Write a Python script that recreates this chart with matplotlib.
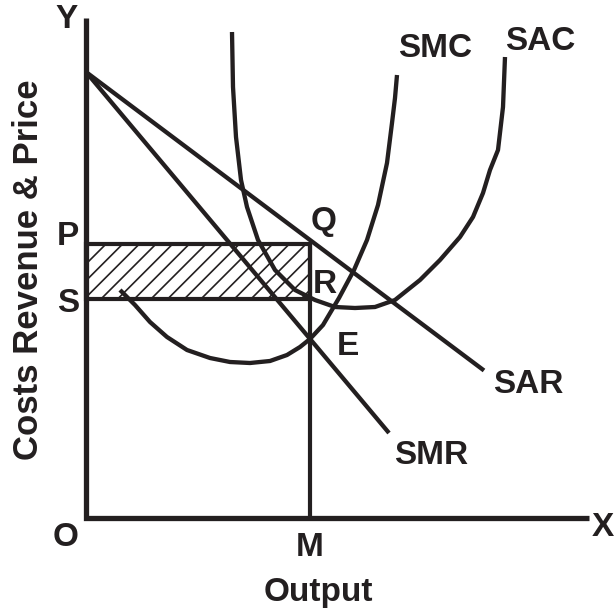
import numpy as np
import matplotlib.pyplot as plt
from matplotlib.patches import Rectangle

plt.rcParams['font.family'] = ['Liberation Sans', 'DejaVu Sans']
plt.rcParams['hatch.linewidth'] = 1.2

ink = '#231f20'

# sumbu (satuan output dan harga)
y_top = 10.0
x_end = 10.06

# garis SAR dan SMR (titik awal di sumbu Y, titik akhir)
sar_x = [0.0, 7.96]
sar_y = [8.92, 2.95]
smr_x = [0.0, 6.06]
smr_y = [8.92, 1.70]

# kurva SMC
smc_x = [0.68, 0.98, 1.28, 1.62, 2.02, 2.48, 2.88, 3.28, 3.68, 4.02, 4.28, 4.48, 4.74,
         5.06, 5.36, 5.62, 5.84, 6.02, 6.12, 6.18, 6.22]
smc_y = [4.56, 4.26, 3.92, 3.62, 3.36, 3.20, 3.12, 3.10, 3.14, 3.26, 3.42, 3.58, 3.86,
         4.40, 4.96, 5.56, 6.26, 7.10, 7.90, 8.40, 8.86]

# kurva SAC
sac_x = [2.92, 2.94, 3.00, 3.10, 3.22, 3.44, 3.78, 4.18, 4.58, 4.98, 5.38, 5.78, 6.18,
         6.68, 7.08, 7.48, 7.74, 7.94, 8.08, 8.24, 8.34, 8.38]
sac_y = [9.72, 8.62, 7.62, 6.76, 6.22, 5.56, 4.96, 4.56, 4.36, 4.22, 4.20, 4.22, 4.36,
         4.76, 5.16, 5.62, 6.02, 6.50, 6.96, 7.36, 8.22, 9.22]

# keseimbangan
out_m = 4.48
price_p = 5.48
cost_s = 4.38

fig = plt.figure(figsize=(6.15, 6.11), dpi=100)
ax = fig.add_axes([0, 0, 1, 1])
ax.set_xlim(-1.72, 10.58)
ax.set_ylim(-1.86, 10.36)
ax.axis('off')

# area laba (diarsir)
ax.add_patch(Rectangle((0, cost_s), out_m, price_p - cost_s, facecolor='white',
                       edgecolor=ink, hatch='//', linewidth=3.0, zorder=1))
ax.plot([out_m, out_m], [0, price_p], color=ink, lw=3.0, zorder=2)

lw = 3.1
ax.plot(sar_x, sar_y, color=ink, lw=lw, solid_capstyle='butt', zorder=3)
ax.plot(smr_x, smr_y, color=ink, lw=lw, solid_capstyle='butt', zorder=3)
ax.plot(smc_x, smc_y, color=ink, lw=lw, solid_capstyle='butt', solid_joinstyle='round', zorder=3)
ax.plot(sac_x, sac_y, color=ink, lw=lw, solid_capstyle='butt', solid_joinstyle='round', zorder=3)

# sumbu
ax.plot([0, 0, x_end], [y_top, 0, 0], color=ink, lw=3.8, solid_joinstyle='miter',
        solid_capstyle='butt', zorder=4)

fs = 24
txt = dict(color=ink, fontsize=fs, fontweight='bold', ha='center', va='center')
ax.text(-0.38, 9.96, 'Y', **txt)
ax.text(10.34, -0.2, 'X', **txt)
ax.text(-0.40, -0.38, 'O', **txt)
ax.text(out_m, -0.6, 'M', **txt)
ax.text(-0.36, 5.62, 'P', **txt)
ax.text(-0.36, 4.28, 'S', **txt)
ax.text(4.76, 5.92, 'Q', **txt)
ax.text(4.78, 4.66, 'R', **txt)
ax.text(5.24, 3.42, 'E', **txt)
ax.text(6.98, 9.38, 'SMC', **txt)
ax.text(9.08, 9.52, 'SAC', **txt)
ax.text(8.84, 2.66, 'SAR', **txt)
ax.text(6.90, 1.26, 'SMR', **txt)
ax.text(4.64, -1.48, 'Output', **txt)
ax.text(-1.16, 4.96, 'Costs Revenue & Price', rotation=90, color=ink, fontsize=25,
        fontweight='bold', ha='center', va='center')

fig.savefig('out.png', dpi=100)
